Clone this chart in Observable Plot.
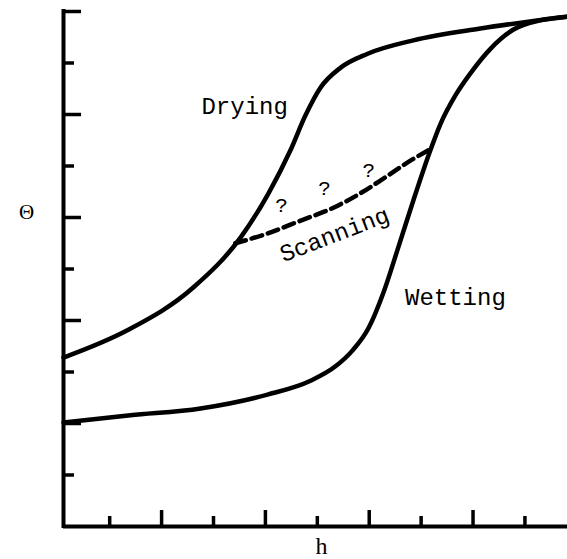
<!DOCTYPE html>
<html>
<head>
<meta charset="utf-8">
<script src="https://cdn.jsdelivr.net/npm/d3@7"></script>
<script src="https://cdn.jsdelivr.net/npm/@observablehq/plot@0.6"></script>
<style>
  html, body { margin: 0; padding: 0; background: #fff; }
</style>
</head>
<body>
<div id="chart"></div>
<script>
// Drying (main drainage) curve: h vs Θ
const dryingH     = [0.11, 1.34, 2.61, 3.52, 4.06, 4.48, 4.77, 5.06, 5.45, 5.97, 6.85, 8.14, 9.82];
const dryingTheta = [3.28, 3.81, 4.64, 5.61, 6.47, 7.30, 7.98, 8.52, 8.91, 9.18, 9.44, 9.67, 9.90];

// Wetting (main imbibition) curve
const wettingH     = [0.11, 1.40, 2.75, 4.04, 4.87, 5.35, 5.68, 5.99, 6.28, 6.56, 6.85, 7.14, 7.37, 7.66, 7.95, 8.34, 8.78, 9.30, 9.82];
const wettingTheta = [2.02, 2.16, 2.29, 2.56, 2.83, 3.11, 3.42, 3.86, 4.56, 5.42, 6.33, 7.20, 7.81, 8.37, 8.80, 9.28, 9.65, 9.83, 9.90];

// Scanning curve (dashed)
const scanningH     = [3.42, 4.04, 4.68, 5.31, 5.83, 6.28, 6.74, 7.20];
const scanningTheta = [5.50, 5.69, 5.94, 6.19, 6.47, 6.76, 7.07, 7.34];

// Curve labels
const curveLabels = ["Drying", "Wetting"];
const curveLabelH = [3.60, 7.66];
const curveLabelTheta = [8.16, 4.45];
const scanLabel = ["Scanning"];
const scanLabelH = [5.33];
const scanLabelTheta = [5.67];

// Question marks along the scanning curve
const questionMarks = ["?", "?", "?"];
const questionH = [4.31, 5.14, 5.99];
const questionTheta = [6.23, 6.56, 6.91];

// Axis ticks (no labels)
const xTicks = [1, 2, 3, 4, 5, 6, 7, 8, 9];
const yTicks = [1, 2, 3, 4, 5, 6, 7, 8, 9, 10];
const xDomain = [0.11, 9.82];
const yDomain = [0, 10];
const xTitle = "h";
const yTitle = "Θ";

const W = 567, H = 559;
const mL = 63, mR = 0, mT = 11, mB = 33;
const frameW = W - mL - mR, frameH = H - mT - mB;

const toRows = (hs, ts) => hs.map((h, i) => ({h, theta: ts[i]}));
const mono = "'Liberation Mono', 'DejaVu Sans Mono', monospace";
const serif = "'Liberation Serif', 'DejaVu Serif', serif";

const chart = Plot.plot({
  width: W,
  height: H,
  marginLeft: mL,
  marginRight: mR,
  marginTop: mT,
  marginBottom: mB,
  style: {background: "#fff", color: "#000"},
  x: {domain: xDomain, axis: null},
  y: {domain: yDomain, axis: null},
  marks: [
    // axis lines
    Plot.ruleX([xDomain[0]], {y1: yDomain[0], y2: yDomain[1], strokeWidth: 4, strokeLinecap: "square"}),
    Plot.ruleY([yDomain[0]], {x1: xDomain[0], x2: xDomain[1], strokeWidth: 4}),
    // x ticks (pointing up, inside)
    Plot.tickX(xTicks.filter(d => d % 2 === 0), {x: d => d, strokeWidth: 3.5, insetTop: frameH - 16}),
    Plot.tickX(xTicks.filter(d => d % 2 === 1), {x: d => d, strokeWidth: 3.5, insetTop: frameH - 10}),
    // y ticks (pointing right, inside)
    Plot.tickY(yTicks.filter(d => d % 2 === 0), {y: d => d, strokeWidth: 3.5, insetRight: frameW - 18}),
    Plot.tickY(yTicks.filter(d => d % 2 === 1), {y: d => d, strokeWidth: 3.5, insetRight: frameW - 11}),
    // curves
    Plot.line(toRows(dryingH, dryingTheta), {x: "h", y: "theta", curve: "monotone-x", strokeWidth: 4.5, strokeLinecap: "round"}),
    Plot.line(toRows(wettingH, wettingTheta), {x: "h", y: "theta", curve: "monotone-x", strokeWidth: 4.5, strokeLinecap: "round"}),
    Plot.line(toRows(scanningH, scanningTheta), {x: "h", y: "theta", curve: "monotone-x", strokeWidth: 4.5, strokeDasharray: "11,6"}),
    // labels
    Plot.text(curveLabels, {x: curveLabelH, y: curveLabelTheta, text: d => d, fontFamily: mono, fontSize: 24, textAnchor: "middle", lineAnchor: "middle", fill: "#000"}),
    Plot.text(scanLabel, {x: scanLabelH, y: scanLabelTheta, text: d => d, fontFamily: mono, fontSize: 24, textAnchor: "middle", lineAnchor: "middle", rotate: -21, fill: "#000"}),
    Plot.text(questionMarks, {x: questionH, y: questionTheta, text: d => d, fontFamily: mono, fontSize: 21, textAnchor: "middle", lineAnchor: "middle", fill: "#000"}),
    // axis titles
    Plot.text([yTitle], {frameAnchor: "left", y: 6.1, dx: -37, text: d => d, fontFamily: serif, fontSize: 21, textAnchor: "middle", lineAnchor: "middle", fill: "#000"}),
    Plot.text([xTitle], {frameAnchor: "bottom", x: 5.08, dy: 27, text: d => d, fontFamily: serif, fontSize: 24, textAnchor: "middle", lineAnchor: "bottom", fill: "#000"})
  ]
});
document.getElementById("chart").appendChild(chart);
</script>
</body>
</html>
